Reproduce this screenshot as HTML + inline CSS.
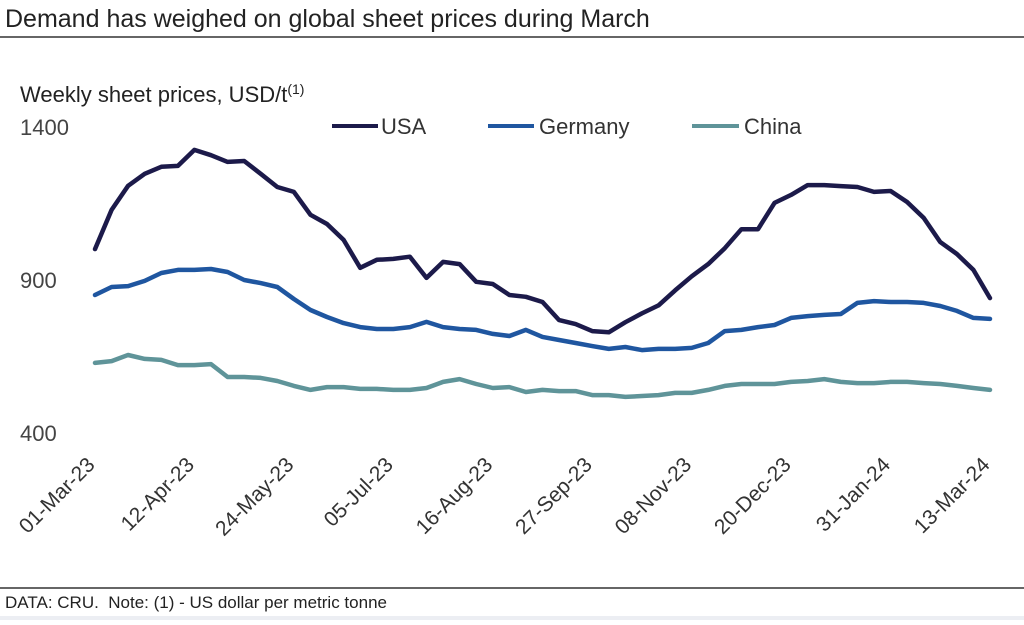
<!DOCTYPE html>
<html><head><meta charset="utf-8"><style>
body{margin:0;width:1024px;height:620px;background:#fff;overflow:hidden;font-family:"Liberation Sans",Arial,sans-serif;}
</style></head><body>
<svg id="chart" width="1024" height="620" xmlns="http://www.w3.org/2000/svg" font-family="Liberation Sans, Arial, sans-serif">
<text x="5" y="27" font-size="25" fill="#222">Demand has weighed on global sheet prices during March</text>
<line x1="0" y1="37" x2="1024" y2="37" stroke="#333" stroke-width="1.5"/>
<text x="20" y="102" font-size="22" fill="#222">Weekly sheet prices, USD/t<tspan font-size="14" dy="-8">(1)</tspan></text>
<g id="yticks"></g><g id="xticks"></g><g id="series"></g>
<g>
<line x1="332" y1="126" x2="378" y2="126" stroke="#1c1a4a" stroke-width="4"/>
<text x="381" y="134" font-size="22" fill="#333">USA</text>
<line x1="488" y1="126" x2="534" y2="126" stroke="#1f56a0" stroke-width="4"/>
<text x="539" y="134" font-size="22" fill="#333">Germany</text>
<line x1="692" y1="126" x2="739" y2="126" stroke="#5f9499" stroke-width="4"/>
<text x="744" y="134" font-size="22" fill="#333">China</text>
</g>
<line x1="0" y1="588" x2="1024" y2="588" stroke="#333" stroke-width="1.5"/>
<text x="5" y="608" font-size="17" fill="#222" xml:space="preserve">DATA: CRU.  Note: (1) - US dollar per metric tonne</text>
<rect x="0" y="616" width="1024" height="4" fill="#eceef3"/>
</svg>
<script>
const xLabels=["01-Mar-23","12-Apr-23","24-May-23","05-Jul-23","16-Aug-23","27-Sep-23","08-Nov-23","20-Dec-23","31-Jan-24","13-Mar-24"];
const yTicks=[400,900,1400];
const usa=[1001,1129,1208,1247,1270,1273,1325,1308,1286,1289,1247,1204,1188,1113,1083,1031,940,966,969,976,907,959,952,894,887,851,845,828,769,756,733,729,762,791,817,866,912,952,1004,1066,1066,1152,1178,1210,1210,1207,1204,1188,1191,1155,1103,1024,985,933,841];
const germany=[851,877,880,897,923,933,933,936,926,900,890,877,838,802,779,759,746,740,740,746,763,746,740,737,724,717,737,714,704,694,684,675,681,671,675,675,678,694,733,737,746,753,776,782,786,789,825,831,828,828,825,815,799,776,773];
const china=[629,635,655,642,639,622,622,625,583,583,580,570,554,541,550,550,544,544,541,541,547,567,576,560,547,550,534,541,537,537,524,524,518,521,524,531,531,541,554,560,560,560,567,570,576,567,563,563,567,567,563,560,554,547,541];
const NS="http://www.w3.org/2000/svg";
const x0=95,x1=990,n=usa.length;
const xs=i=>x0+(x1-x0)*i/(n-1);
const ys=v=>433-(v-400)*(433-127)/1000;
const yg=document.getElementById('yticks');
yTicks.forEach(v=>{const t=document.createElementNS(NS,'text');


t.setAttribute('x',20);t.setAttribute('y',ys(v)+8);t.setAttribute('font-size','22');t.setAttribute('fill','#444');t.textContent=v;yg.appendChild(t);});
const xg=document.getElementById('xticks');
xLabels.forEach((l,k)=>{const t=document.createElementNS(NS,'text');


const px=xs(k*6)+1,py=466;
t.setAttribute('x',px);t.setAttribute('y',py);t.setAttribute('text-anchor','end');t.setAttribute('font-size','21');t.setAttribute('fill','#333');
t.setAttribute('transform','rotate(-45 '+px+' '+py+')');t.textContent=l;xg.appendChild(t);});
const sg=document.getElementById('series');
[[china,'#5f9499','line-china'],[germany,'#1f56a0','line-germany'],[usa,'#1c1a4a','line-usa']].forEach(([d,c,nm])=>{
const p=document.createElementNS(NS,'polyline');


p.setAttribute('points',d.map((v,i)=>xs(i).toFixed(1)+','+ys(v).toFixed(1)).join(' '));
p.setAttribute('fill','none');p.setAttribute('stroke',c);p.setAttribute('stroke-width','4.5');p.setAttribute('stroke-linejoin','round');p.setAttribute('stroke-linecap','round');
sg.appendChild(p);});
</script>
</body></html>
